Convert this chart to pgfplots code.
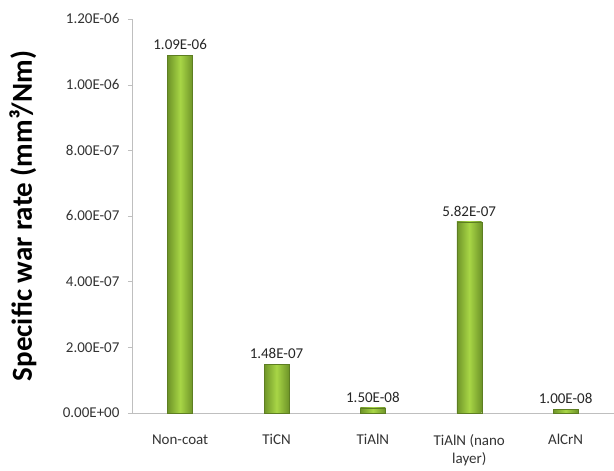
\documentclass[border=0pt]{standalone}
\usepackage{pgfplots}
\pgfplotsset{compat=1.18}
\usepackage{fontspec}
\setmainfont{Carlito}
\definecolor{bardark}{HTML}{6E9428}
\definecolor{barlight}{HTML}{A8D646}
\definecolor{axgray}{HTML}{BFBFBF}
\pgfplotsset{
  greenbar/.style={
    ybar, bar width=25pt, bar shift=0pt,
    draw=bardark!85!black, line width=0.4pt,
    left color=bardark, right color=bardark, middle color=barlight,
    nodes near coords,
    point meta=explicit symbolic,
    every node near coord/.append style={font=\fontsize{15}{17}\selectfont, text=black!85, anchor=south, yshift=2pt},
  }
}
\begin{document}
\begin{tikzpicture}
\begin{axis}[
  name=ax,
  scale only axis,
  width=482pt, height=394pt,
  xmin=-0.5, xmax=4.5,
  ymin=0, ymax=1.2e-6,
  axis lines=left,
  axis line style={draw=axgray, -},
  xtick={0,1,2,3,4},
  xticklabels={Non-coat, TiCN, TiAlN, {TiAlN (nano\\layer)}, AlCrN},
  xticklabel style={align=center, font=\fontsize{15}{18}\selectfont, text=black!80, yshift=-14pt, anchor=north},
  x tick style={draw=none},
  ytick={0,2e-7,4e-7,6e-7,8e-7,1e-6,1.2e-6},
  yticklabels={0.00E+00,2.00E-07,4.00E-07,6.00E-07,8.00E-07,1.00E-06,1.20E-06},
  scaled y ticks=false,
  yticklabel style={font=\fontsize{15}{17}\selectfont, text=black!80, xshift=-5pt},
  y tick style={draw=axgray},
  tick align=outside,
  major tick length=4pt,
  ylabel={\textbf{Specific war rate (mm³/Nm)}},
  ylabel style={font=\fontsize{29}{32}\selectfont, at={(-109pt,0.5)}, anchor=center},
  clip=false,
]
\addplot[greenbar] coordinates {(0,1.09e-6) [1.09E-06]};
\addplot[greenbar] coordinates {(1,1.48e-7) [1.48E-07]};
\addplot[greenbar] coordinates {(2,1.5e-8) [1.50E-08]};
\addplot[greenbar] coordinates {(3,5.82e-7) [5.82E-07]};
\addplot[greenbar] coordinates {(4,1.0e-8) [1.00E-08]};
\end{axis}
\path[use as bounding box] ([xshift=-132pt,yshift=-58pt]ax.south west) rectangle ([yshift=19pt]ax.north east);
\end{tikzpicture}
\end{document}
